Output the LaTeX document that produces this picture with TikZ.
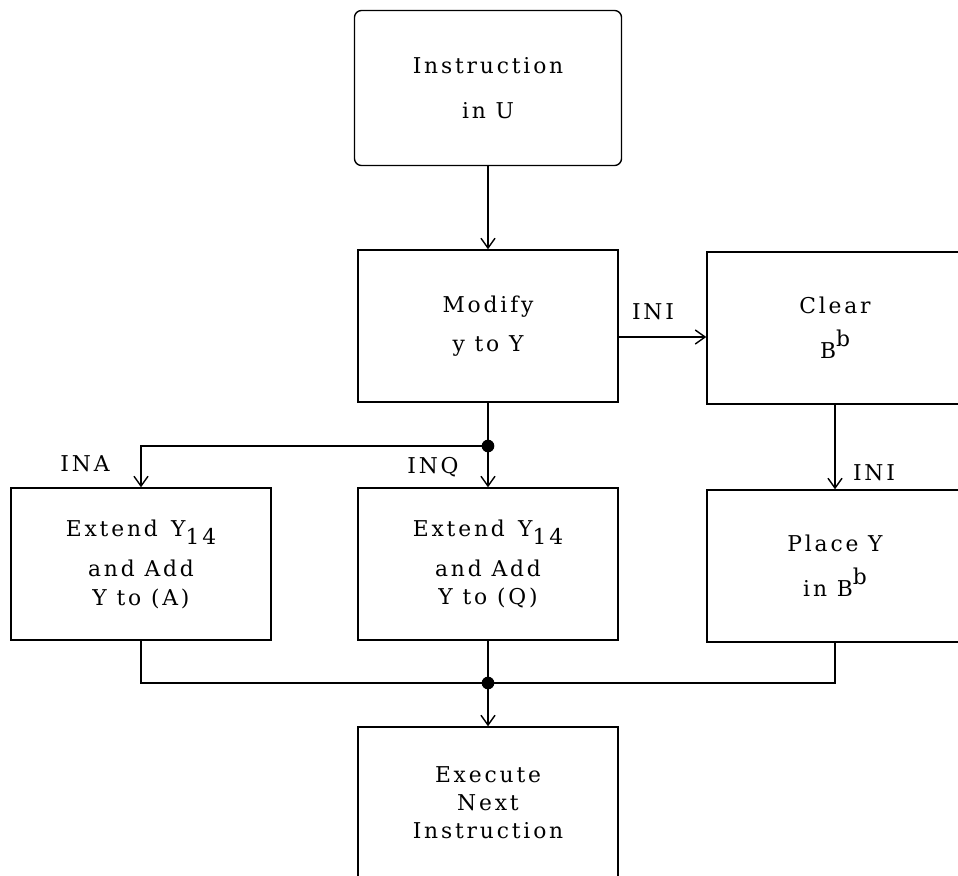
\documentclass[tikz,border=0pt]{standalone}
\usepackage{fontspec}
\setmainfont{DejaVu Serif}[LetterSpace=13]
\usetikzlibrary{arrows.meta,calc}
\begin{document}
\begin{tikzpicture}[x=0.025cm,y=-0.025cm,
    box/.style={draw, line width=1pt, minimum width=6.5cm, minimum height=3.8cm, align=center,
      font=\fontsize{15.5}{20}\selectfont},
    flow/.style={draw, line width=1pt, -{Straight Barb[length=7pt,width=10pt]}},
    wire/.style={draw, line width=1pt},
    lbl/.style={font=\fontsize{15.5}{20}\selectfont, inner sep=0pt},
    dot/.style={circle, fill, inner sep=0pt, minimum size=9pt}]
    \useasboundingbox (0,0) rectangle (958,875);

    \node[box, rounded corners=5pt, minimum width=6.675cm, minimum height=3.875cm] (instr) at (488,88) {Instruction\\[12pt]in U};
    \node[box] (mod) at (488,326) {Modify\\[8pt]y to Y};
    \node[box, minimum width=6.4cm] (clr) at (835,328) {Clear\\[10pt]B\raisebox{1.1ex}{b}};
    \node[box] (exta) at (141,564) {Extend \,Y\raisebox{-0.7ex}{14}\\[9pt]and Add\\Y to (A)};
    \node[box] (extq) at (488,564) {Extend \,Y\raisebox{-0.7ex}{14}\\[9pt]and Add\\Y to (Q)};
    \node[box, minimum width=6.4cm] (plc) at (835,566) {Place Y\\[10pt]in B\raisebox{1.1ex}{b}};
    \node[box] (exe) at (488,803) {Execute\\Next\\Instruction};

    \node[dot] (j1) at (488,446) {};
    \node[dot] (j2) at (488,683) {};

    \node[lbl] (ini1) at (653,312) {INI};
    \node[lbl] (ini2) at (874,473) {INI};
    \node[lbl] (ina) at (85,464) {INA};
    \node[lbl] (inq) at (433,467) {INQ};

    \path[flow] (instr) -- (mod);
    \path[wire] (mod) -- (j1.center);
    \path[flow] (j1.center) -- (extq);
    \path[flow] (j1.center) -| (exta);
    \path[flow] ($(mod.east)+(0,11)$) -- ($(clr.west)+(0,9)$);
    \path[flow] (clr) -- (plc);
    \path[wire] (exta) |- (j2.center);
    \path[wire] (plc) |- (j2.center);
    \path[wire] (extq) -- (j2.center);
    \path[flow] (j2.center) -- (exe);
\end{tikzpicture}
\end{document}
